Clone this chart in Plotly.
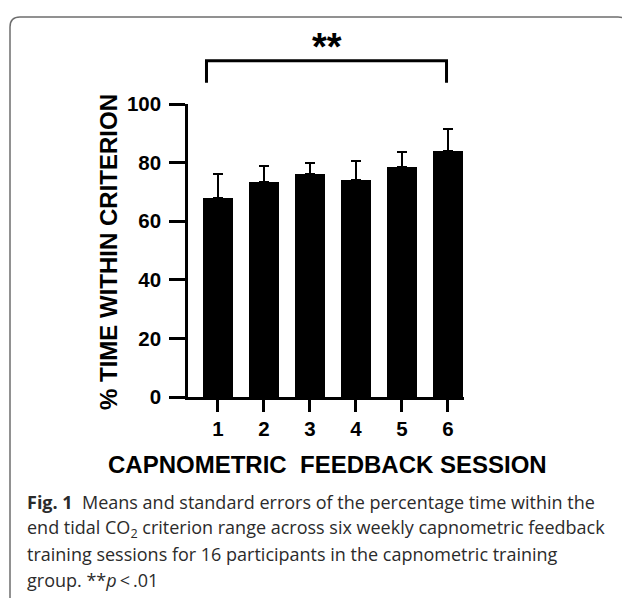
import plotly.graph_objects as go

# ---- data ----
sessions = [1, 2, 3, 4, 5, 6]
session_labels = ["1", "2", "3", "4", "5", "6"]
mean_pct = [68.0, 73.4, 76.0, 74.0, 78.4, 84.0]
se_pct = [8.0, 5.4, 3.8, 6.4, 5.2, 7.3]
y_ticks = [0, 20, 40, 60, 80, 100]
x_title = "CAPNOMETRIC\u00a0\u00a0FEEDBACK SESSION"
y_title = "% TIME WITHIN CRITERION"
sig_label = "**"
caption_lines = [
    "<b>Fig. 1</b>\u00a0\u00a0Means and standard errors of the percentage time within the",
    "end tidal CO<sub>2</sub> criterion range across six weekly capnometric feedback",
    "training sessions for 16 participants in the capnometric training",
    "group. **<i>p</i>\u2009<\u2009.01",
]

OFF = 8  # page body margin
W, H = 630 - OFF, 601 - OFF
L, R, T, B = 188 - OFF, 166, 104 - OFF, 204
PW, PH = W - L - R, H - T - B


def px(xp):
    return (xp - OFF - L) / PW


def py(yp):
    return (H - B - (yp - OFF)) / PH


fig = go.Figure()
fig.add_trace(go.Bar(
    x=sessions, y=mean_pct, width=0.667,
    marker=dict(color="black", line=dict(width=0)),
    error_y=dict(type="data", symmetric=False, array=se_pct,
                 arrayminus=[0] * len(se_pct), color="black",
                 thickness=2, width=5),
    showlegend=False,
))

ARIAL = "Liberation Sans, Arial, sans-serif"
axfont = dict(family=ARIAL, size=20.5, color="black", weight="bold")

fig.update_layout(
    width=W, height=H,
    margin=dict(l=L, r=R, t=T, b=B, pad=0),
    paper_bgcolor="white", plot_bgcolor="white",
    bargap=0,
    xaxis=dict(range=[0.35, 6.35], tickvals=sessions, ticktext=session_labels,
               showline=True, linecolor="black", linewidth=2.5,
               ticks="outside", ticklen=12, tickwidth=2.5, tickcolor="black",
               showgrid=False, zeroline=False, tickfont=axfont),
    yaxis=dict(range=[0, 100], tickvals=y_ticks,
               showline=True, linecolor="black", linewidth=2.5,
               ticks="outside", ticklen=16, tickwidth=2.5, tickcolor="black",
               showgrid=False, zeroline=False, ticklabelstandoff=4,
               tickfont=axfont),
)

# axis titles
fig.add_annotation(text=f"<b>{x_title}</b>", xref="paper", yref="paper",
                   x=px(327), y=py(465), xanchor="center", yanchor="middle",
                   showarrow=False, font=dict(family=ARIAL, size=24, color="black"))
fig.add_annotation(text=f"<b>{y_title}</b>", xref="paper", yref="paper",
                   x=px(108), y=py(252), xanchor="center", yanchor="middle",
                   showarrow=False, textangle=-90,
                   font=dict(family=ARIAL, size=24, color="black"))

# significance bracket
fig.add_shape(type="path", xref="x", yref="paper",
              path=f"M 0.752,{py(82.7)} L 0.752,{py(60.7)} L 5.97,{py(60.7)} L 5.97,{py(82.7)}",
              line=dict(color="black", width=3))
fig.add_annotation(text=f"<b>{sig_label}</b>", xref="paper", yref="paper",
                   x=px(327), y=py(47), xanchor="center", yanchor="middle",
                   showarrow=False, font=dict(family=ARIAL, size=38, color="black"))

# caption
cap_y = [502, 528, 554, 580]
for line, yy in zip(caption_lines, cap_y):
    fig.add_annotation(text=line, xref="paper", yref="paper",
                       x=px(25), y=py(yy), xanchor="left", yanchor="middle",
                       showarrow=False,
                       font=dict(family="Open Sans, sans-serif", size=18, color="#2b2b2b"))

# rounded figure border
x0, y0, x1, y1, r = 10, 17, 628, 598, 10
path = (f"M {px(x0)},{py(y1)} L {px(x0)},{py(y0 + r)} "
        f"Q {px(x0)},{py(y0)} {px(x0 + r)},{py(y0)} "
        f"L {px(x1 - r)},{py(y0)} Q {px(x1)},{py(y0)} {px(x1)},{py(y0 + r)}")
fig.add_shape(type="path", xref="paper", yref="paper", path=path,
              line=dict(color="#6e6e6e", width=1.5))

fig.write_html("out.html")
